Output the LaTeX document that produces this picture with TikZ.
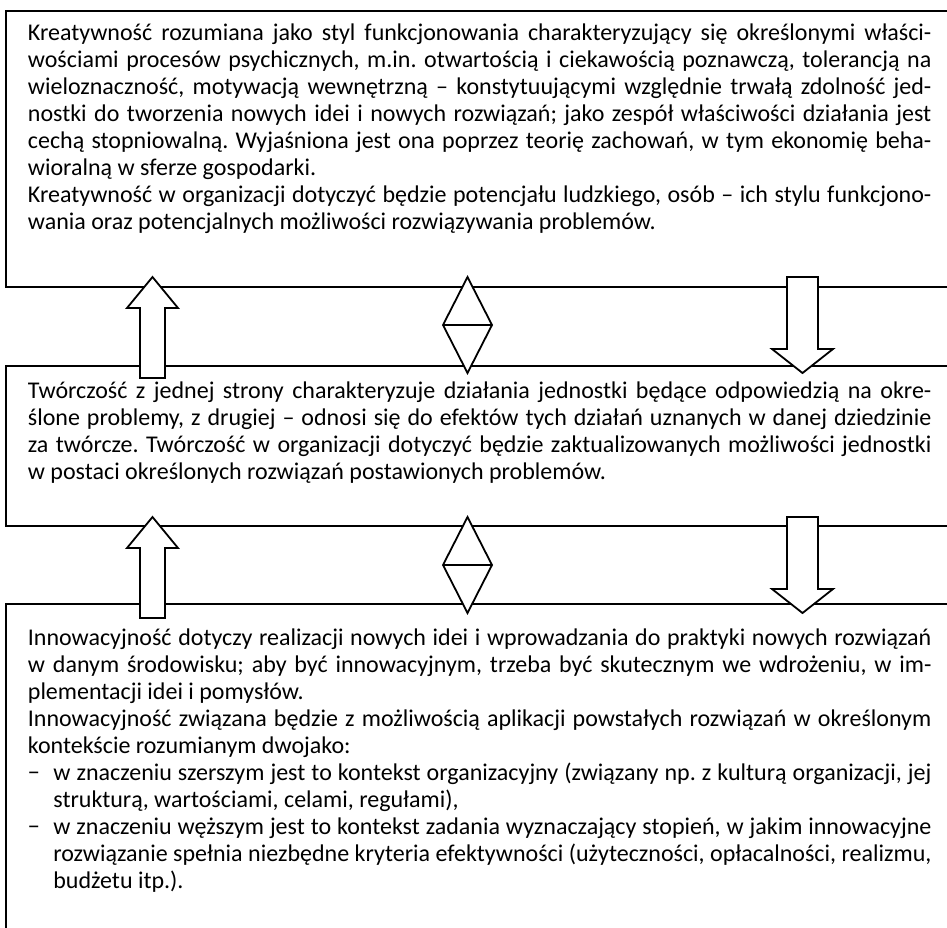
\documentclass[tikz,border=0pt]{standalone}
\usepackage{fontspec}
\setmainfont{Carlito}
% one justified line, and one line set at its natural width
\newcommand\fullline[1]{\hbox to \linewidth{#1}}
\newcommand\lastline[1]{\hbox{#1}}
\newcommand\dashitem{\makebox[12.75pt][l]{−}}
\newcommand\dashindent{\hspace*{12.75pt}}
\newcommand\boxtext[1]{\parbox[t]{451.75pt}{\fontsize{12pt}{13.5pt}\selectfont\frenchspacing #1}}
\begin{document}
\begin{tikzpicture}[x=0.5pt,y=-0.5pt,
  frame/.style={line width=1pt},
  shapeline/.style={line width=0.9pt, fill=white, line join=miter},
  textblock/.style={anchor=base west, inner sep=0pt},
  upblock/.pic={\draw[shapeline] (0,0) -- (25.5,31) -- (12.5,31) -- (12.5,101)
      -- (-12.5,101) -- (-12.5,31) -- (-25.5,31) -- cycle;},
  downblock/.pic={\draw[shapeline] (-15.5,0) -- (15.5,0) -- (15.5,72) -- (30.5,72)
      -- (0,96) -- (-30.5,72) -- (-15.5,72) -- cycle;},
  bothblock/.pic={\draw[shapeline] (0,0) -- (24.5,48) -- (0,96) -- (-24.5,48) -- cycle;
      \draw[line width=0.9pt] (-24.5,48) -- (24.5,48);}]
\useasboundingbox (0,0) rectangle (947,927);
\begin{scope}
\clip (0,0) rectangle (947,927);
% three frames, open to the right (and the last one to the bottom)
\draw[frame] (6,11) rectangle (960,287);
\draw[frame] (6,366) rectangle (960,526);
\draw[frame] (6,604) rectangle (960,940);

% block arrows between the frames
\coordinate (upA) at (152.5,277);
\coordinate (bothA) at (467.5,277);
\coordinate (downA) at (802.5,277);
\coordinate (upB) at (152.5,517);
\coordinate (bothB) at (467.5,517);
\coordinate (downB) at (802.5,517);
\pic at (upA) {upblock};
\pic at (bothA) {bothblock};
\pic at (downA) {downblock};
\pic at (upB) {upblock};
\pic at (bothB) {bothblock};
\pic at (downB) {downblock};
\end{scope}

\node[textblock] (kreatywnosc) at (27.5,40) {\boxtext{%
\fullline{Kreatywność rozumiana jako styl funkcjonowania charakteryzujący się określonymi właści-}
\fullline{wościami procesów psychicznych, m.in. otwartością i ciekawością poznawczą, tolerancją na}
\fullline{wieloznaczność, motywacją wewnętrzną – konstytuującymi względnie trwałą zdolność jed-}
\fullline{nostki do tworzenia nowych idei i nowych rozwiązań; jako zespół właściwości działania jest}
\fullline{cechą stopniowalną. Wyjaśniona jest ona poprzez teorię zachowań, w tym ekonomię beha-}
\lastline{wioralną w sferze gospodarki.}
\fullline{Kreatywność w organizacji dotyczyć będzie potencjału ludzkiego, osób – ich stylu funkcjono-}
\lastline{wania oraz potencjalnych możliwości rozwiązywania problemów.}}};

\node[textblock] (tworczosc) at (27.5,398) {\boxtext{%
\fullline{Twórczość z jednej strony charakteryzuje działania jednostki będące odpowiedzią na okre-}
\fullline{ślone problemy, z drugiej – odnosi się do efektów tych działań uznanych w danej dziedzinie}
\fullline{za twórcze. Twórczość w organizacji dotyczyć będzie zaktualizowanych możliwości jednostki}
\lastline{w postaci określonych rozwiązań postawionych problemów.}}};

\node[textblock] (innowacyjnosc) at (27.5,645) {\boxtext{%
\fullline{Innowacyjność dotyczy realizacji nowych idei i wprowadzania do praktyki nowych rozwiązań}
\fullline{w danym środowisku; aby być innowacyjnym, trzeba być skutecznym we wdrożeniu, w im-}
\lastline{plementacji idei i pomysłów.}
\fullline{Innowacyjność związana będzie z możliwością aplikacji powstałych rozwiązań w określonym}
\lastline{kontekście rozumianym dwojako:}
\fullline{\dashitem w znaczeniu szerszym jest to kontekst organizacyjny (związany np. z kulturą organizacji, jej}
\lastline{\dashindent strukturą, wartościami, celami, regułami),}
\fullline{\dashitem w znaczeniu węższym jest to kontekst zadania wyznaczający stopień, w jakim innowacyjne}
\fullline{\dashindent rozwiązanie spełnia niezbędne kryteria efektywności (użyteczności, opłacalności, realizmu,}
\lastline{\dashindent budżetu itp.).}}};
\end{tikzpicture}
\end{document}
